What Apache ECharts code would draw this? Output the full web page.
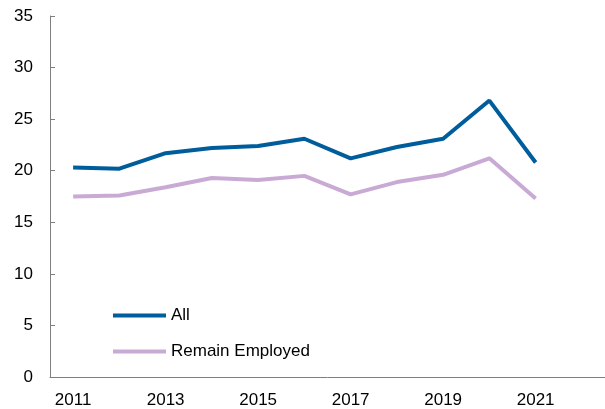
<!DOCTYPE html>
<html><head><meta charset="utf-8">
<script src="https://cdn.jsdelivr.net/npm/echarts@6/dist/echarts.min.js"></script>
<style>html,body{margin:0;padding:0;background:#fff}#c{width:605px;height:409px}</style>
</head><body><div id="c"></div>
<script>
const years = ['2011','2012','2013','2014','2015','2016','2017','2018','2019','2020','2021','2022'];
const allValues = [20.3, 20.2, 21.7, 22.2, 22.4, 23.1, 21.2, 22.3, 23.1, 26.8, 20.8, null];
const remainEmployed = [17.5, 17.6, 18.4, 19.3, 19.1, 19.5, 17.7, 18.9, 19.6, 21.2, 17.3, null];
const seriesNames = ['All', 'Remain Employed'];
const yTicks = {min: 0, max: 35, interval: 5};

const chart = echarts.init(document.getElementById('c'), null, {renderer: 'canvas'});
const font = 'Liberation Sans, Arial, sans-serif';
chart.setOption({
  animation: false,
  grid: {left: 50, top: 16, bottom: 30, width: 559, containLabel: false},
  legend: {
    orient: 'vertical', left: 108, top: 302, itemWidth: 53, itemHeight: 4, itemGap: 19,
    icon: 'rect',
    textStyle: {fontFamily: font, fontSize: 17, color: '#000'},
    data: seriesNames
  },
  xAxis: {
    type: 'category', data: years, boundaryGap: true,
    axisLine: {lineStyle: {color: '#7f7f7f', width: 1}},
    axisTick: {inside: true, length: 5, lineStyle: {color: '#7f7f7f'}},
    axisLabel: {interval: 1, fontFamily: font, fontSize: 17, color: '#000', margin: 15},
    splitLine: {show: false}
  },
  yAxis: {
    type: 'value', min: yTicks.min, max: yTicks.max, interval: yTicks.interval,
    axisLine: {show: true, lineStyle: {color: '#7f7f7f', width: 1}},
    axisTick: {show: true, inside: true, length: 5, lineStyle: {color: '#7f7f7f'}},
    axisLabel: {fontFamily: font, fontSize: 17, color: '#000', margin: 17},
    splitLine: {show: false}
  },
  series: [
    {name: seriesNames[0], type: 'line', data: allValues, symbol: 'none',
     lineStyle: {color: '#005d9c', width: 4}, itemStyle: {color: '#005d9c'}},
    {name: seriesNames[1], type: 'line', data: remainEmployed, symbol: 'none',
     lineStyle: {color: '#c9aad4', width: 4}, itemStyle: {color: '#c9aad4'}}
  ]
});
</script></body></html>
